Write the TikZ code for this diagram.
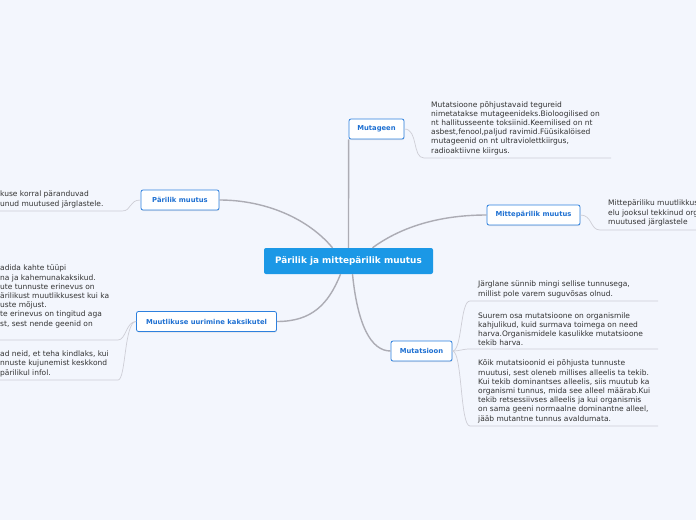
\documentclass[tikz,border=0pt]{standalone}
\usepackage{fontspec}
\setmainfont{DejaVu Sans}
\usetikzlibrary{positioning,shadows}
\definecolor{MapBack}{RGB}{243,246,253}
\definecolor{RootBlue}{RGB}{27,152,230}
\definecolor{TopicBlue}{RGB}{45,128,222}
\definecolor{TopicText}{RGB}{30,112,210}
\definecolor{BranchGrey}{RGB}{172,172,180}
\definecolor{LeafGrey}{RGB}{206,206,214}
\definecolor{NoteText}{RGB}{51,51,51}

\begin{document}
\begin{tikzpicture}[
  x=1pt, y=-1pt,
  root/.style={fill=RootBlue, text=white, rounded corners=2pt, inner sep=0pt,
               font=\bfseries\fontsize{8.9}{10}\selectfont,
               minimum width=169pt, minimum height=26pt},
  topic/.style={draw=TopicBlue, fill=white, line width=0.8pt, rounded corners=2pt,
                text=TopicText, inner sep=0pt, minimum height=20pt,
                font=\bfseries\fontsize{6.8}{8}\selectfont,
                drop shadow={shadow xshift=0.4pt, shadow yshift=-1pt, opacity=0.18}},
  note/.style={inner sep=0pt, align=left, text=NoteText,
               font=\fontsize{7.5}{9.2}\selectfont},
  branch/.style={draw=BranchGrey, line width=1.4pt},
  leaf/.style={draw=LeafGrey, line width=0.7pt}
]
\useasboundingbox (0,0) rectangle (696,520);
\fill[MapBack] (0,0) rectangle (696,520);
\clip (0,0) rectangle (696,520);

% Central topic and main branches.
\node[root] (root) at (348.5,261) {Pärilik ja mittepärilik muutus};
\node[topic, minimum width=55pt] (mutageen) at (376.5,129) {Mutageen};
\node[topic, minimum width=78pt] (parilik) at (180,200) {Pärilik muutus};
\node[topic, minimum width=93pt] (mitte) at (533.5,215) {Mittepärilik muutus};
\node[topic, minimum width=140pt] (kaksikud) at (206.5,321.5) {Muutlikuse uurimine kaksikutel};
\node[topic, minimum width=61pt] (mutatsioon) at (421.5,351) {Mutatsioon};

\draw[branch] (root.north) -- (mutageen.south west);
\draw[branch] ([xshift=-16pt]root.north) .. controls +(-25,-30) and +(45,0) .. (parilik.east);
\draw[branch] ([xshift=24pt]root.north) .. controls +(30,-22) and +(-45,0) .. (mitte.west);
\draw[branch] ([xshift=-8pt]root.south) .. controls +(-12,30) and +(35,0) .. (kaksikud.east);
\draw[branch] ([xshift=4pt]root.south) .. controls +(5,50) and +(-20,0) .. (mutatsioon.west);

% Mutageen note.
\coordinate (mutageen-u) at (424,158);
\coordinate (mutageen-e) at (611,158);
\draw[leaf] (mutageen.east) .. controls +(14,0) and +(-12,0) .. (mutageen-u) -- (mutageen-e);
\node[note, above right=3.2pt and 7pt of mutageen-u] (mutageen-note)
  {Mutatsioone põhjustavaid tegureid\\
   nimetatakse mutageenideks.Bioloogilised on\\
   nt hallitusseente toksiinid.Keemilised on nt\\
   asbest,fenool,paljud ravimid.Füüsikalöised\\
   mutageenid on nt ultraviolettkiirgus,\\
   radioaktiivne kiirgus.};

% Pärilik muutus note (cut at the left edge).
\coordinate (parilik-u) at (122,211);
\coordinate (parilik-e) at (0,211);
\draw[leaf] (parilik.west) .. controls +(-12,0) and +(10,0) .. (parilik-u) -- (parilik-e);
\node[note, above right=3.2pt and 0pt of parilik-e] (parilik-note)
  {kuse korral päranduvad\\
   unud muutused järglastele.};

% Mittepärilik muutus note (cut at the right edge).
\coordinate (mitte-u) at (600,230);
\coordinate (mitte-e) at (696,230);
\draw[leaf] (mitte.east) .. controls +(12,0) and +(-10,0) .. (mitte-u) -- (mitte-e);
\node[note, above right=4pt and 8pt of mitte-u] (mitte-note)
  {Mittepäriliku muutlikkus\\
   elu jooksul tekkinud org\\
   muutused järglastele};

% Kaksikute notes (cut at the left edge).
\coordinate (kaks-u1) at (118,340);
\coordinate (kaks-e1) at (0,340);
\coordinate (kaks-u2) at (118,380);
\coordinate (kaks-e2) at (0,380);
\draw[leaf] (kaksikud.west) .. controls +(-10,0) and +(8,0) .. (kaks-u1) -- (kaks-e1);
\draw[leaf] (kaksikud.west) .. controls +(-12,0) and +(8,0) .. (kaks-u2) -- (kaks-e2);
\node[note, above right=12.2pt and 0pt of kaks-e1] (kaks-note1)
  {adida kahte tüüpi\\
   na ja kahemunakaksikud.\\
   ute tunnuste erinevus on\\
   ärilikust muutlikkusest kui ka\\
   uste mõjust.\\
   te erinevus on tingitud aga\\
   st, sest nende geenid on};
\node[note, above right=3.2pt and 0pt of kaks-e2] (kaks-note2)
  {ad neid, et teha kindlaks, kui\\
   nnuste kujunemist keskkond\\
   pärilikul infol.};

% Mutatsioon notes.
\coordinate (mut-u1) at (470,301);
\coordinate (mut-e1) at (658,301);
\coordinate (mut-u2) at (470,349);
\coordinate (mut-e2) at (658,349);
\coordinate (mut-u3) at (470,426);
\coordinate (mut-e3) at (658,426);
\draw[leaf] (mutatsioon.east) .. controls +(10,0) and +(-10,0) .. (mut-u1) -- (mut-e1);
\draw[leaf] (mutatsioon.east) .. controls +(8,0) and +(-8,0) .. (mut-u2) -- (mut-e2);
\draw[leaf] (mutatsioon.east) .. controls +(10,0) and +(-10,0) .. (mut-u3) -- (mut-e3);
\node[note, above right=3.2pt and 8pt of mut-u1] (mut-note1)
  {Järglane sünnib mingi sellise tunnusega,\\
   millist pole varem suguvõsas olnud.};
\node[note, above right=2.8pt and 8pt of mut-u2] (mut-note2)
  {Suurem osa mutatsioone on organismile\\
   kahjulikud, kuid surmava toimega on need\\
   harva.Organismidele kasulikke mutatsioone\\
   tekib harva.};
\node[note, above right=3.2pt and 8pt of mut-u3] (mut-note3)
  {Kõik mutatsioonid ei põhjusta tunnuste\\
   muutusi, sest oleneb millises alleelis ta tekib.\\
   Kui tekib dominantses alleelis, siis muutub ka\\
   organismi tunnus, mida see alleel määrab.Kui\\
   tekib retsessiivses alleelis ja kui organismis\\
   on sama geeni normaalne dominantne alleel,\\
   jääb mutantne tunnus avaldumata.};

\end{tikzpicture}
\end{document}
